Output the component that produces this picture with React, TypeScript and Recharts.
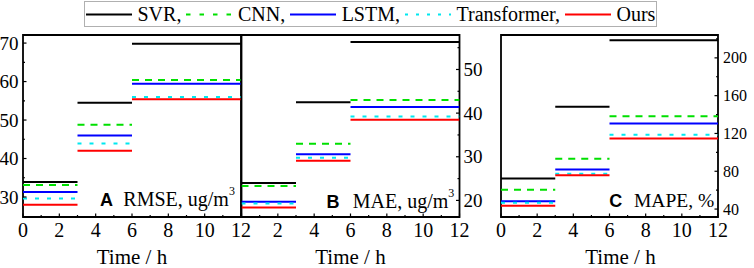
import React from 'react';
import { LineChart, Line, XAxis, YAxis, ReferenceArea } from 'recharts';

const models = ['SVR', 'CNN', 'LSTM', 'Transformer', 'Ours'];
const horizonEdges = [0, 3, 6, 12];
const xTicks = [0, 1, 2, 3, 4, 5, 6, 7, 8, 9, 10, 11, 12];

// RMSE, ug/m3 for 0-3 h, 3-6 h, 6-12 h
const rmseSVR = [33.9, 54.5, 69.8];
const rmseCNN = [33.1, 48.8, 60.4];
const rmseLSTM = [31.3, 46.0, 59.4];
const rmseTransformer = [29.6, 43.9, 56.0];
const rmseOurs = [28.0, 42.0, 55.4];

// MAE, ug/m3
const maeSVR = [24.0, 42.5, 56.3];
const maeCNN = [23.3, 33.0, 43.0];
const maeLSTM = [19.7, 30.6, 41.4];
const maeTransformer = [19.3, 29.8, 39.2];
const maeOurs = [18.4, 29.1, 38.5];

// MAPE, %
const mapeSVR = [72.3, 148.4, 218.6];
const mapeCNN = [60.4, 93.3, 138.2];
const mapeLSTM = [48.2, 81.8, 130.5];
const mapeTransformer = [46.6, 77.5, 118.6];
const mapeOurs = [43.5, 75.8, 114.7];

const rmseTicks = [30, 35, 40, 45, 50, 55, 60, 65, 70];
const maeTicks = [20, 25, 30, 35, 40, 45, 50, 55];
const mapeTicks = [40, 60, 80, 100, 120, 140, 160, 180, 200, 220];

const colors = ['#000000', '#00e000', '#0000ff', '#00e8f0', '#ff0000'];
const dashes = [undefined, '7 6', undefined, '4 8', undefined];

const SERIF = '"Liberation Serif", "Times New Roman", serif';
const SANS = '"Liberation Sans", Arial, sans-serif';

// force the serif face on every svg text that carries this class
const css = `
.tnr, .tnr tspan { font-family: "Liberation Serif", "Times New Roman", serif !important; }
`;

const toSteps = (vals: number[]) => {
  const pts: { x: number; v: number | null }[] = [];
  vals.forEach((v, i) => {
    if (i > 0) pts.push({ x: horizonEdges[i], v: null });
    pts.push({ x: horizonEdges[i], v });
    pts.push({ x: horizonEdges[i + 1], v });
  });
  return pts;
};

const AxisTick = (props: any) => {
  const { x, y, payload, side, gap, fontSize, isMajor, hide } = props;
  const v = payload.value;
  const major = isMajor(v);
  const len = major ? 3.5 : 2;
  const showText = major && !(hide || []).includes(v);
  const txt = { className: 'tnr', fontFamily: SERIF, style: { fontFamily: SERIF, fontSize, fill: '#000' } };
  if (side === 'bottom') {
    const ay = y - gap;
    return (
      <g>
        <line x1={x} x2={x} y1={ay} y2={ay - len} stroke="#000" strokeWidth={1.2} />
        {showText && (
          <text x={x} y={y} dy="0.71em" textAnchor="middle" {...txt}>
            {v}
          </text>
        )}
      </g>
    );
  }
  if (side === 'left') {
    const ax = x + gap;
    return (
      <g>
        <line x1={ax} x2={ax + len} y1={y} y2={y} stroke="#000" strokeWidth={1.2} />
        {showText && (
          <text x={x} y={y} dy="0.35em" textAnchor="end" {...txt}>
            {v}
          </text>
        )}
      </g>
    );
  }
  const ax = x - gap;
  return (
    <g>
      <line x1={ax} x2={ax - len} y1={y} y2={y} stroke="#000" strokeWidth={1.2} />
      {showText && (
        <text x={x} y={y} dy="0.35em" textAnchor="start" {...txt}>
          {v}
        </text>
      )}
    </g>
  );
};

type PanelProps = {
  series: number[][];
  domain: [number, number];
  yTicks: number[];
  yMajor: (v: number) => boolean;
  side: 'left' | 'right';
  left: number;
  right: number;
  yWidth: number;
  yFont: number;
  yGap: number;
  hideX?: number[];
  labelDx?: number;
};

const Panel = ({ series, domain, yTicks, yMajor, side, left, right, yWidth, yFont, yGap, hideX, labelDx = 0 }: PanelProps) => (
  <div style={{ position: 'absolute', left: 0, top: 0, fontFamily: SERIF }}>
    <LineChart width={754} height={268} margin={{ top: 35, right, bottom: 0, left }} style={{ fontFamily: SERIF }}>
      <XAxis
        dataKey="x"
        type="number"
        domain={[0, 12]}
        ticks={xTicks}
        interval={0}
        allowDataOverflow
        height={51}
        axisLine={false}
        tickLine={false}
        tickSize={0}
        tickMargin={5.5}
        tick={(p: any) => (
          <AxisTick {...p} side="bottom" gap={5.5} fontSize={20} isMajor={(v: number) => v % 2 === 0} hide={hideX} />
        )}
        label={{
          position: 'insideBottom',
          content: (p: any) => {
            const vb = p.viewBox;
            return (
              <text
                className="tnr"
                x={vb.x + vb.width / 2 + labelDx}
                y={vb.y + vb.height - 4.5}
                textAnchor="middle"
                fontFamily={SERIF}
                style={{ fontFamily: SERIF, fontSize: 21, fill: '#000' }}
              >
                Time / h
              </text>
            );
          },
        }}
      />
      <YAxis
        type="number"
        orientation={side}
        domain={domain}
        ticks={yTicks}
        interval={0}
        allowDataOverflow
        width={yWidth}
        axisLine={false}
        tickLine={false}
        tickSize={0}
        tickMargin={yGap}
        tick={(p: any) => <AxisTick {...p} side={side} gap={yGap} fontSize={yFont} isMajor={yMajor} />}
      />
      {series.map((vals, i) => (
        <Line
          key={models[i]}
          name={models[i]}
          data={toSteps(vals)}
          dataKey="v"
          type="linear"
          stroke={colors[i]}
          strokeWidth={2}
          strokeDasharray={dashes[i]}
          dot={false}
          activeDot={false}
          connectNulls={false}
          isAnimationActive={false}
        />
      ))}
      <ReferenceArea x1={0} x2={12} y1={domain[0]} y2={domain[1]} fill="none" stroke="#000" strokeWidth={1.8} />
    </LineChart>
  </div>
);

const Legend = () => (
  <div
    style={{
      position: 'absolute',
      left: 84,
      top: 1,
      height: 24,
      border: '1px solid #b0b0b0',
      display: 'flex',
      alignItems: 'center',
      padding: '0 1px',
      fontFamily: SERIF,
      fontSize: 20,
      lineHeight: '24px',
      whiteSpace: 'nowrap',
      background: '#fff',
    }}
  >
    {models.map((m, i) => (
      <div key={m} style={{ display: 'flex', alignItems: 'center', marginRight: i < models.length - 1 ? 5 : 0 }}>
        <svg width={46} height={24} style={{ marginRight: 5.5 }}>
          <line x1={0} x2={46} y1={12.5} y2={12.5} stroke={colors[i]} strokeWidth={2} strokeDasharray={dashes[i] ? (i === 1 ? '4.5 9' : '3 8') : undefined} />
        </svg>
        <span>{i < models.length - 1 ? `${m},` : m}</span>
      </div>
    ))}
  </div>
);

const Notes = () => (
  <svg width={754} height={268} style={{ position: 'absolute', left: 0, top: 0, pointerEvents: 'none' }}>
    <text x={100} y={206} style={{ fontFamily: SANS, fontWeight: 'bold', fontSize: 18 }}>A</text>
    <text className="tnr" x={123.3} y={206} style={{ fontSize: 20 }}>
      RMSE, ug/m<tspan dy={-11} style={{ fontSize: 12 }}>3</tspan>
    </text>
    <text x={326.5} y={208} style={{ fontFamily: SANS, fontWeight: 'bold', fontSize: 18 }}>B</text>
    <text className="tnr" x={352.7} y={208} style={{ fontSize: 20 }}>
      MAE, ug/m<tspan dy={-11} style={{ fontSize: 12 }}>3</tspan>
    </text>
    <text x={609.3} y={206.7} style={{ fontFamily: SANS, fontWeight: 'bold', fontSize: 18 }}>C</text>
    <text className="tnr" x={634} y={206.7} style={{ fontSize: 19.5 }}>MAPE, %</text>
  </svg>
);

export default function App() {
  return (
    <div style={{ position: 'fixed', left: 0, top: 0, width: 754, height: 268, background: '#fff', overflow: 'hidden' }}>
      <style>{css}</style>
      <Panel
        series={[rmseSVR, rmseCNN, rmseLSTM, rmseTransformer, rmseOurs]}
        domain={[24.8, 72.1]}
        yTicks={rmseTicks}
        yMajor={(v) => v % 10 === 0}
        side="left"
        left={0}
        right={513}
        yWidth={23}
        yFont={19}
        yGap={4.5}
      />
      <Panel
        series={[maeSVR, maeCNN, maeLSTM, maeTransformer, maeOurs]}
        domain={[16.2, 57.9]}
        yTicks={maeTicks}
        yMajor={(v) => v % 10 === 0}
        side="right"
        left={241.5}
        right={254.5}
        yWidth={40}
        yFont={19}
        yGap={4}
        hideX={[0]}
      />
      <Panel
        series={[mapeSVR, mapeCNN, mapeLSTM, mapeTransformer, mapeOurs]}
        domain={[31.6, 224.2]}
        yTicks={mapeTicks}
        yMajor={(v) => v % 40 === 0}
        side="right"
        left={501}
        right={0}
        yWidth={36}
        yFont={16}
        yGap={5}
        labelDx={11}
      />
      <Legend />
      <Notes />
    </div>
  );
}
